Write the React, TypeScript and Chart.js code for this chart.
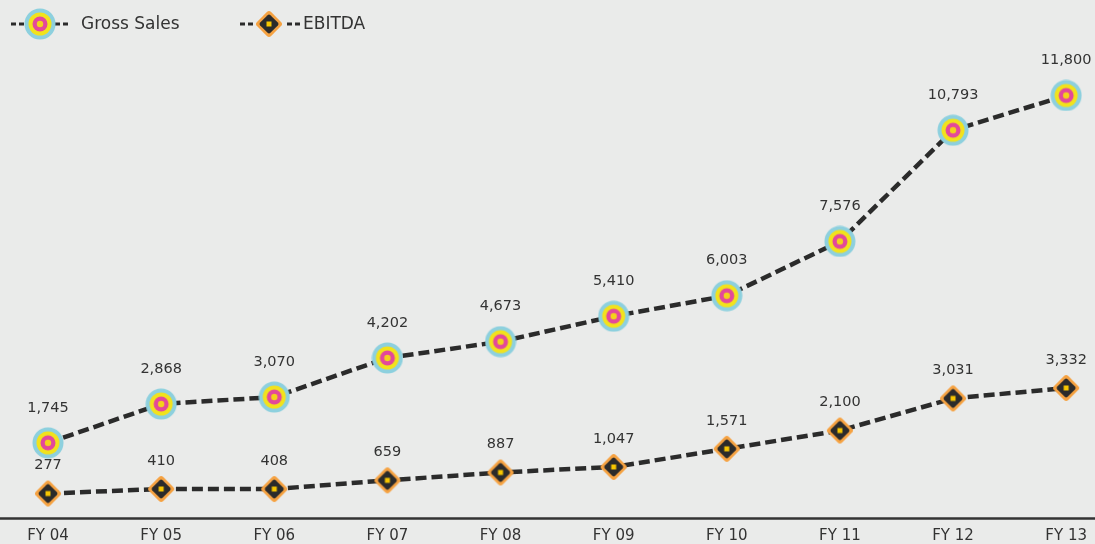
import React, { useEffect, useRef } from "react";
import { Chart, registerables } from "chart.js";

Chart.register(...registerables);

// Fiscal years shown along the x axis
const fiscalYears = ["FY 04", "FY 05", "FY 06", "FY 07", "FY 08", "FY 09", "FY 10", "FY 11", "FY 12", "FY 13"];
// Gross sales per year
const grossSales = [1745, 2868, 3070, 4202, 4673, 5410, 6003, 7576, 10793, 11800];
// EBITDA per year
const ebitda = [277, 410, 408, 659, 887, 1047, 1571, 2100, 3031, 3332];
// Series names
const seriesNames = ["Gross Sales", "EBITDA"];

const FONT = "'DejaVu Sans', Verdana, sans-serif";
const TEXT_COLOR = "#333333";
const LINE_COLOR = "#2b2b2b";
const BG = "#eaebea";

function makeTargetMarker(): HTMLCanvasElement {
  const c = document.createElement("canvas");
  c.width = 32;
  c.height = 32;
  const g = c.getContext("2d")!;
  const rings: [number, string][] = [
    [15.5, "#8dd0de"],
    [11.5, "#f2e21c"],
    [7.5, "#e3489b"],
    [3.2, "#f4d21a"],
  ];
  for (const [r, col] of rings) {
    g.beginPath();
    g.arc(16, 16, r, 0, Math.PI * 2);
    g.fillStyle = col;
    g.fill();
  }
  return c;
}

function roundedDiamond(g: CanvasRenderingContext2D, cx: number, cy: number, side: number, radius: number) {
  g.save();
  g.translate(cx, cy);
  g.rotate(Math.PI / 4);
  g.beginPath();
  (g as any).roundRect(-side / 2, -side / 2, side, side, radius);
  g.restore();
}

function makeDiamondMarker(): HTMLCanvasElement {
  const c = document.createElement("canvas");
  c.width = 32;
  c.height = 32;
  const g = c.getContext("2d")!;
  roundedDiamond(g, 16, 16, 20, 3);
  g.fillStyle = "#f5a242";
  g.fill();
  roundedDiamond(g, 16, 16, 14.5, 2);
  g.fillStyle = LINE_COLOR;
  g.fill();
  g.fillStyle = "#f7c600";
  g.fillRect(13.5, 13.5, 5, 5);
  return c;
}

// Offset of each series' value label above its marker
const labelLift = [35, 28];

// Legend entries: dashed stub on both sides of the marker, then the name
const legendSlots = [
  { left: [11, 25], right: [55, 69], marker: 40, text: 81 },
  { left: [240, 255], right: [287, 301], marker: 269, text: 303 },
];

const backgroundPlugin = {
  id: "pageBackground",
  beforeDraw(chart: any) {
    const { ctx, width, height } = chart;
    ctx.save();
    ctx.fillStyle = BG;
    ctx.fillRect(0, 0, width, height);
    ctx.restore();
  },
};

const baselinePlugin = {
  id: "fullWidthBaseline",
  beforeDatasetsDraw(chart: any) {
    const { ctx, width, chartArea } = chart;
    ctx.save();
    ctx.strokeStyle = "#333333";
    ctx.lineWidth = 2.5;
    ctx.beginPath();
    ctx.moveTo(0, chartArea.bottom - 0.5);
    ctx.lineTo(width, chartArea.bottom - 0.5);
    ctx.stroke();
    ctx.restore();
  },
};

const valueLabelPlugin = {
  id: "valueLabels",
  afterDatasetsDraw(chart: any) {
    const { ctx } = chart;
    ctx.save();
    ctx.font = `14.5px ${FONT}`;
    ctx.fillStyle = TEXT_COLOR;
    ctx.textAlign = "center";
    ctx.textBaseline = "middle";
    chart.data.datasets.forEach((ds: any, i: number) => {
      const meta = chart.getDatasetMeta(i);
      meta.data.forEach((pt: any, j: number) => {
        const v = ds.data[j] as number;
        ctx.fillText(v.toLocaleString("en-US"), pt.x, pt.y - labelLift[i]);
      });
    });
    ctx.restore();
  },
};

const dashLegendPlugin = {
  id: "dashLegend",
  afterDraw(chart: any) {
    const { ctx } = chart;
    const y = 24;
    ctx.save();
    chart.data.datasets.forEach((ds: any, i: number) => {
      const slot = legendSlots[i];
      ctx.strokeStyle = LINE_COLOR;
      ctx.lineWidth = 3;
      ctx.setLineDash([5, 3]);
      ctx.beginPath();
      ctx.moveTo(slot.left[0], y);
      ctx.lineTo(slot.left[1], y);
      ctx.moveTo(slot.right[0], y);
      ctx.lineTo(slot.right[1], y);
      ctx.stroke();
      ctx.setLineDash([]);
      const img = ds.pointStyle as HTMLCanvasElement;
      ctx.drawImage(img, slot.marker - img.width / 2, y - img.height / 2);
      ctx.font = `17px ${FONT}`;
      ctx.fillStyle = TEXT_COLOR;
      ctx.textAlign = "left";
      ctx.textBaseline = "middle";
      ctx.fillText(ds.label, slot.text, y + 1);
    });
    ctx.restore();
  },
};

export default function App() {
  const canvasRef = useRef<HTMLCanvasElement | null>(null);

  useEffect(() => {
    const canvas = canvasRef.current;
    if (!canvas) return;
    const target = makeTargetMarker();
    const diamond = makeDiamondMarker();

    const chart = new Chart(canvas, {
      type: "line",
      data: {
        labels: fiscalYears,
        datasets: [
          {
            label: seriesNames[0],
            data: grossSales,
            borderColor: LINE_COLOR,
            borderWidth: 4.5,
            borderDash: [11, 5],
            pointStyle: target as any,
            pointRadius: 15,
            pointHoverRadius: 15,
            tension: 0,
            clip: false as any,
          },
          {
            label: seriesNames[1],
            data: ebitda,
            borderColor: LINE_COLOR,
            borderWidth: 4.5,
            borderDash: [11, 5],
            pointStyle: diamond as any,
            pointRadius: 14,
            pointHoverRadius: 14,
            tension: 0,
            clip: false as any,
          },
        ],
      },
      options: {
        responsive: false,
        animation: false,
        devicePixelRatio: 1,
        layout: { padding: { top: 54, left: 48, right: 27.5, bottom: -9 } },
        plugins: {
          legend: { display: false },
          tooltip: { enabled: false },
        },
        scales: {
          x: {
            offset: false,
            grid: { display: false, drawTicks: false },
            border: { display: false },
            ticks: {
              color: TEXT_COLOR,
              font: { family: FONT, size: 15 },
              padding: 8,
              maxRotation: 0,
              autoSkip: false,
            },
          },
          y: {
            display: false,
            min: -460,
            max: 13000,
          },
        },
      },
      plugins: [backgroundPlugin, baselinePlugin, valueLabelPlugin, dashLegendPlugin],
    });

    return () => chart.destroy();
  }, []);

  return (
    <div style={{ position: "fixed", left: 0, top: 0, width: 1095, height: 544, background: BG }}>
      <canvas ref={canvasRef} width={1095} height={544} style={{ display: "block" }} />
    </div>
  );
}
